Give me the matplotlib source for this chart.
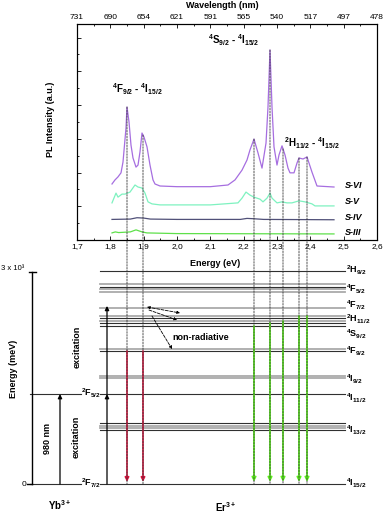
import matplotlib.pyplot as plt
from matplotlib.patches import ConnectionPatch
from matplotlib.ticker import MultipleLocator
import numpy as np

plt.rcParams['font.family'] = ['Liberation Sans', 'DejaVu Sans']
plt.rcParams['mathtext.fontset'] = 'custom'
plt.rcParams['mathtext.rm'] = 'Liberation Sans'
plt.rcParams['mathtext.bf'] = 'Liberation Sans:bold'
plt.rcParams['mathtext.default'] = 'bf'

# PL spectra (energy in eV, intensity in a.u., curves stacked)
e_vi = [1.805, 1.814, 1.823, 1.832, 1.838, 1.847, 1.850, 1.856, 1.862, 1.868,
        1.877, 1.883, 1.889, 1.895, 1.901, 1.910, 1.919, 1.928, 1.934, 1.949,
        2.000, 2.100, 2.153, 2.174, 2.195, 2.210, 2.219, 2.231, 2.243, 2.255,
        2.267, 2.273, 2.279, 2.285, 2.291, 2.300, 2.306, 2.315, 2.324, 2.333,
        2.339, 2.351, 2.360, 2.366, 2.378, 2.390, 2.405, 2.420, 2.471]
i_vi = [1.66, 1.78, 1.87, 1.99, 2.31, 3.32, 3.94, 3.50, 2.81, 2.43,
        2.16, 2.22, 2.61, 3.17, 3.05, 2.76, 2.22, 1.78, 1.66, 1.60,
        1.58, 1.58, 1.63, 1.78, 2.07, 2.37, 2.67, 2.99, 2.58, 2.13,
        2.87, 3.94, 5.63, 3.94, 2.76, 2.22, 2.52, 2.79, 2.52, 2.13,
        1.99, 1.99, 2.28, 2.43, 2.40, 2.46, 2.01, 1.60, 1.57]

e_v = [1.805, 1.817, 1.823, 1.835, 1.844, 1.859, 1.874, 1.883, 1.895, 1.904,
       1.913, 1.925, 1.949, 2.100, 2.183, 2.195, 2.207, 2.219, 2.231, 2.249,
       2.258, 2.270, 2.279, 2.285, 2.300, 2.315, 2.330, 2.345, 2.366, 2.384,
       2.405, 2.414, 2.471]
i_v = [1.10, 1.39, 1.27, 1.36, 1.36, 1.42, 1.63, 1.57, 1.54, 1.39,
       1.13, 1.07, 1.04, 1.04, 1.10, 1.24, 1.42, 1.33, 1.27, 1.21,
       1.13, 1.24, 1.39, 1.24, 1.10, 1.13, 1.10, 1.10, 1.16, 1.13,
       1.07, 1.01, 1.01]

e_iv = [1.805, 1.860, 1.880, 1.900, 1.920, 2.000, 2.190, 2.210, 2.230, 2.260, 2.471]
i_iv = [0.61, 0.62, 0.66, 0.65, 0.62, 0.61, 0.61, 0.64, 0.63, 0.61, 0.60]

e_iii = [1.805, 1.815, 1.825, 1.860, 1.877, 1.895, 1.910, 2.000, 2.471]
i_iii = [0.21, 0.24, 0.22, 0.24, 0.30, 0.24, 0.21, 0.19, 0.18]

sample_names = ['S-VI', 'S-V', 'S-IV', 'S-III']
sample_colors = ['#a66ee0', '#7ef2c0', '#505078', '#5ee04a']

energy_ticks = [1.7, 1.8, 1.9, 2.0, 2.1, 2.2, 2.3, 2.4, 2.5, 2.6]
energy_ticklabels = ['1,7', '1,8', '1,9', '2,0', '2,1', '2,2', '2,3', '2,4', '2,5', '2,6']
wavelength_ticklabels = ['731', '690', '654', '621', '591', '565', '540', '517', '497', '478']

# emission lines (eV)
red_lines = [1.850, 1.898]
green_lines = [2.231, 2.279, 2.318, 2.366, 2.390]

# Er3+ levels (meV)
er_dark = [3014, 2788, 2349, 2278, 2236, 1882, 1273, 863, 764, 0]
er_grey = [2830, 2759, 2717, 2490, 2377, 2306, 1910, 1528, 1500, 821, 792]
er_names = ['$^2$H$_{9/2}$', '$^4$F$_{5/2}$', '$^4$F$_{7/2}$', '$^2$H$_{11/2}$',
            '$^4$S$_{9/2}$', '$^4$F$_{9/2}$', '$^4$I$_{9/2}$', '$^4$I$_{11/2}$',
            '$^4$I$_{13/2}$', '$^4$I$_{15/2}$']
er_name_y = [3028, 2759, 2533, 2335, 2123, 1882, 1486, 1217, 764, 14]
er_red_top = [1882, 1882]
er_green_top = [2236, 2278, 2306, 2377, 2377]

# Yb3+ levels (meV)
yb_levels = [0, 1273]

fig = plt.figure(figsize=(3.85, 5.13), dpi=100)
W, H = 385.0, 513.0


def px(x, y):
    return x / W, 1 - y / H


# level diagram over the whole figure, x in eV aligned with the spectrum
ax_bot = fig.add_axes([0, 0, 1, 1])
ax_bot.set_xlim(1.7 - 77 / 333.33, 1.7 + 308 / 333.33)
ax_bot.set_ylim(-29 * 14.151, 484 * 14.151)
ax_bot.axis('off')

for lv in er_grey:
    ax_bot.plot([1.769, 2.504], [lv, lv], color='#aaaaaa', lw=1.3)
for lv in er_dark:
    ax_bot.plot([1.769, 2.504], [lv, lv], color='#303030', lw=0.8)
for lv in yb_levels:
    ax_bot.plot([1.559, 1.712], [lv, lv], color='#303030', lw=0.8)

# energy axis
ax_bot.plot([1.565, 1.565], [0, 3000], color='black', lw=1.0)
ax_bot.plot([1.556, 1.577], [3000, 3000], color='black', lw=1.0)
ax_bot.plot([1.550, 1.565], [0, 0], color='black', lw=1.0)

for name, y in zip(er_names, er_name_y):
    ax_bot.text(2.508, y, name, fontsize=6.5, fontweight='bold', ha='left', va='center')
ax_bot.text(1.742, 1288, '$^2$F$_{5/2}$', fontsize=6.5, fontweight='bold', ha='center', va='center')
ax_bot.text(1.742, 14, '$^2$F$_{7/2}$', fontsize=6.5, fontweight='bold', ha='center', va='center')


def arrow(x0, y0, x1, y1, color='black', ls='-', lw=0.9, style='-|>', ms=6):
    ax_bot.annotate('', xy=(x1, y1), xytext=(x0, y0),
                    arrowprops=dict(arrowstyle=style, color=color, lw=lw, ls=ls,
                                    shrinkA=0, shrinkB=0, mutation_scale=ms))


arrow(1.649, 0, 1.649, yb_levels[1])
arrow(1.790, 0, 1.790, yb_levels[1])
arrow(1.790, yb_levels[1], 1.790, 2520)

for x, top in zip(red_lines, er_red_top):
    arrow(x, top, x, 30, color='#d8103c', lw=1.2)
for x, top in zip(green_lines, er_green_top):
    arrow(x, top, x, 30, color='#5cf01c', lw=1.3)

arrow(1.910, 2505, 2.009, 2420, ls='--', lw=0.6, style='<|-|>', ms=4)
arrow(1.916, 2462, 2.000, 2321, ls='--', lw=0.6, style='-|>', ms=4)
arrow(1.925, 2377, 1.985, 1910, ls='--', lw=0.6, style='-|>', ms=4)

fig.text(*px(201, 337), 'non-radiative', fontsize=6.5, fontweight='bold', ha='center', va='center')
fig.text(*px(47, 438), '980 nm', fontsize=6.5, fontweight='bold', rotation=90, ha='center', va='center')
fig.text(*px(76, 437), 'excitation', fontsize=6.5, fontweight='bold', rotation=90, ha='center', va='center')
fig.text(*px(77, 347), 'excitation', fontsize=6.5, fontweight='bold', rotation=90, ha='center', va='center')
fig.text(*px(14, 369), 'Energy (meV)', fontsize=6.5, fontweight='bold', rotation=90, ha='center', va='center')
fig.text(*px(13, 269), '3 x 10³', fontsize=5.5, ha='center', va='center')
fig.text(*px(24, 484), '0', fontsize=6, ha='center', va='center')
fig.text(*px(60, 505), 'Yb$^{3+}$', fontsize=7, fontweight='bold', ha='center', va='center')
fig.text(*px(226, 507), 'Er$^{3+}$', fontsize=7, fontweight='bold', ha='center', va='center')

# PL spectrum
ax = fig.add_axes([77 / W, 1 - 240 / H, 300 / W, 216 / H])
ax.patch.set_alpha(0)
curves = [(e_vi, i_vi), (e_v, i_v), (e_iv, i_iv), (e_iii, i_iii)]
for (e, i), c in zip(curves, sample_colors):
    ax.plot(e, i, color=c, lw=0.9)
label_y = [1.60, 1.13, 0.68, 0.21]
for name, y in zip(sample_names, label_y):
    ax.text(2.503, y, name, fontsize=6.5, fontweight='bold', style='italic', ha='left', va='center')

ax.set_xlim(1.7, 2.6)
ax.set_ylim(0, 6.4)
ax.set_xticks(energy_ticks)
ax.set_xticklabels(energy_ticklabels)
ax.xaxis.set_minor_locator(MultipleLocator(0.05))
ax.yaxis.set_major_locator(MultipleLocator(1))
ax.yaxis.set_minor_locator(MultipleLocator(0.5))
ax.set_yticklabels([])
ax.tick_params(which='both', direction='in', labelsize=6, width=0.6, pad=2)
ax.tick_params(which='major', length=3)
ax.tick_params(which='minor', length=1.5)
for s in ax.spines.values():
    s.set_linewidth(0.8)
fig.text(*px(215, 263), 'Energy (eV)', fontsize=6.5, fontweight='bold', ha='center', va='center')
fig.text(*px(51, 119), 'PL Intensity (a.u.)', fontsize=6.5, fontweight='bold', rotation=90, ha='center', va='center')

ax2 = ax.twiny()
ax2.set_xlim(ax.get_xlim())
ax2.set_xticks(energy_ticks)
ax2.set_xticklabels(wavelength_ticklabels)
ax2.xaxis.set_minor_locator(MultipleLocator(0.05))
ax2.tick_params(which='both', direction='in', labelsize=6, width=0.6, pad=2)
ax2.tick_params(which='major', length=3)
ax2.tick_params(which='minor', length=1.5)
fig.text(*px(222, 5), 'Wavelength (nm)', fontsize=6.5, fontweight='bold', ha='center', va='center')

ax.text(1.88, 4.47, '$^4$F$_{9/2}$ - $^4$I$_{15/2}$', fontsize=7, fontweight='bold', ha='center', va='center')
ax.text(2.171, 5.93, '$^4$S$_{9/2}$ - $^4$I$_{15/2}$', fontsize=7, fontweight='bold', ha='center', va='center')
ax.text(2.405, 2.87, '$^2$H$_{11/2}$ - $^4$I$_{15/2}$', fontsize=7, fontweight='bold', ha='center', va='center')

# dashed guides from spectrum peaks down to the ground state
for x in red_lines + green_lines:
    top = np.interp(x, e_vi, i_vi)
    con = ConnectionPatch(xyA=(x, top), coordsA=ax.transData,
                          xyB=(x, 0), coordsB=ax_bot.transData,
                          arrowstyle='-', ls=(0, (2, 1.5)), lw=0.6, color='#333333')
    fig.add_artist(con)

plt.savefig('out.png', dpi=100)
